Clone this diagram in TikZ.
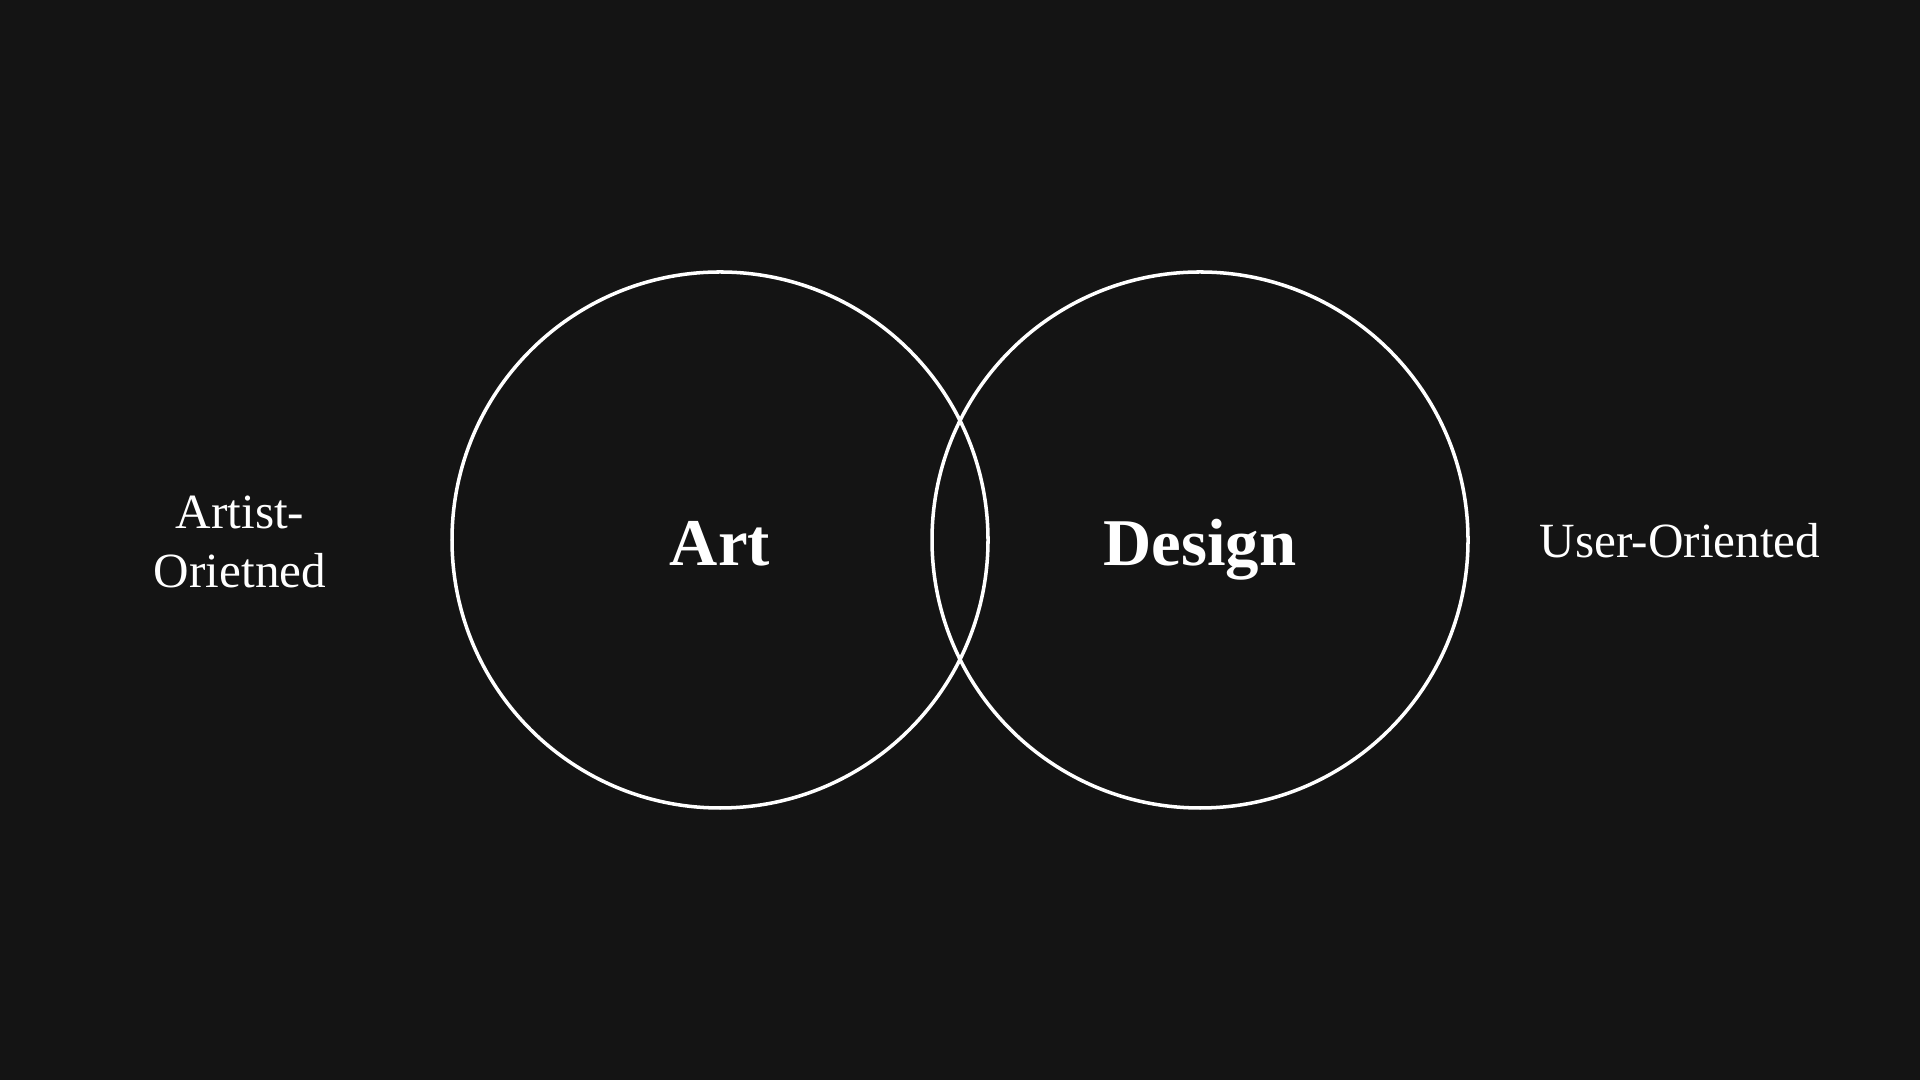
\documentclass[tikz,border=0pt]{standalone}
\usepackage{fontspec}
\setmainfont{Liberation Serif}
\usepackage{xcolor}
\definecolor{fond}{HTML}{141414}

\begin{document}
\begin{tikzpicture}[ring/.style={draw=white,line width=1pt,circle,minimum size=5.36cm,inner sep=0pt,text=white,text height=14.6pt,text depth=0pt,font=\fontsize{19}{23}\selectfont\bfseries},
                    etiquette/.style={text=white,align=center,font=\fontsize{14}{17}\selectfont}]
				\fill[fond] (0,0) rectangle (19.2,10.8);
				\node[ring] (art) at (7.2,5.4) {Art};
				\node[ring] (design) at (12.0,5.4) {Design};
				\node[etiquette] (artiste) at (2.4,5.38) {Artist-\\Orietned};
				\node[etiquette] (usager) at (16.8,5.39) {User-Oriented};

			\end{tikzpicture}
\end{document}
